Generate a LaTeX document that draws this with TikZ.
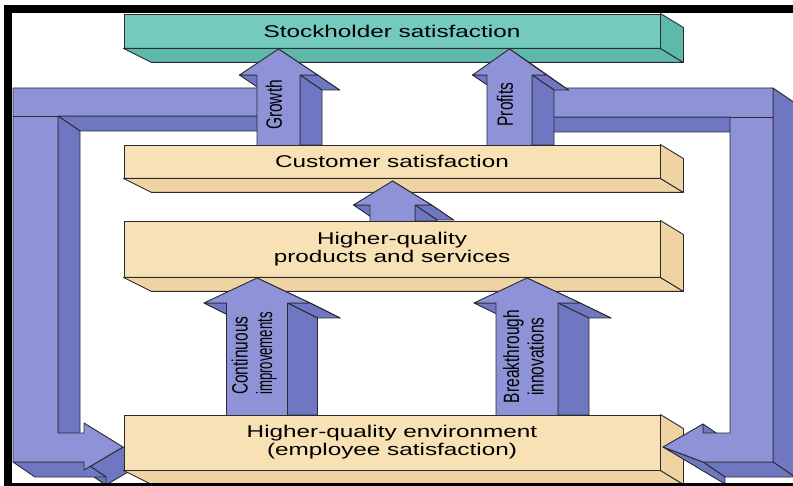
\documentclass[tikz,border=0pt]{standalone}
\usepackage{fontspec}
\setmainfont{Liberation Sans}
\usetikzlibrary{calc}

\definecolor{tealfront}{HTML}{74CBBD}
\definecolor{tealside}{HTML}{5DB9A9}
\definecolor{wheatfront}{HTML}{F9E1B6}
\definecolor{wheatside}{HTML}{EFD3A2}
\definecolor{loopfront}{HTML}{8D93D6}
\definecolor{loopshade}{HTML}{7077C2}
\definecolor{edgeline}{HTML}{2A2A30}

\newcommand\boxfont{\fontsize{17}{18}\selectfont}
\newcommand\tagfont{\fontsize{15.5}{17}\selectfont}
\newcommand\widelabel[1]{\scalebox{1.43}[1]{#1}}
\newcommand\uplabel[2][c]{\scalebox{1}[1.43]{\begin{tabular}{@{}#1@{}}#2\end{tabular}}}

\tikzset{
  face/.style={draw=edgeline, line width=0.9pt, line join=round},
  slab/.style={face, inner sep=0pt, align=center, minimum width=536, font=\boxfont},
  loopface/.style={face, fill=loopfront},
  loopside/.style={face, fill=loopshade},
  loopline/.style={draw=edgeline, line width=0.6pt},
  arrowtag/.style={rotate=90, inner sep=0pt, font=\tagfont}
}

% bottom and right faces of a slab node
\newcommand\slabfaces[2]{%
  \path[face, fill=#2] (#1.south west) -- (#1.south east) -- ($(#1.south east)+(23,14)$) -- ($(#1.south west)+(28,14)$) -- cycle;
  \path[face, fill=#2] (#1.north east) -- ($(#1.north east)+(23,14)$) -- ($(#1.south east)+(23,14)$) -- (#1.south east) -- cycle;
}

% block arrow pointing up: centre x, tip y, base y, half shaft, half head, head length, depth
\newcommand\liftarrow[7]{%
  \path[loopside] ({#1-#5},{#2+#6}) -- ({#1-#4},{#2+#6}) -- ({#1-#4+#7},{#2+#6+15}) -- ({#1-#5+#7},{#2+#6+15}) -- cycle;
  \path[loopside] (#1,#2) -- ({#1+#5},{#2+#6}) -- ({#1+#5+#7},{#2+#6+15}) -- ({#1+#7},{#2+15}) -- cycle;
  \path[loopside] ({#1+#5},{#2+#6}) -- ({#1+#4},{#2+#6}) -- ({#1+#4+#7},{#2+#6+15}) -- ({#1+#5+#7},{#2+#6+15}) -- cycle;
  \path[loopside] ({#1+#4},{#2+#6}) -- ({#1+#4},#3) -- ({#1+#4+#7},#3) -- ({#1+#4+#7},{#2+#6+15}) -- cycle;
  \path[loopface] ({#1-#4},#3) -- ({#1-#4},{#2+#6}) -- ({#1-#5},{#2+#6}) -- (#1,#2) -- ({#1+#5},{#2+#6}) -- ({#1+#4},{#2+#6}) -- ({#1+#4},#3);
}

\begin{document}
\begin{tikzpicture}[x=1pt, y=-1pt]
  \useasboundingbox (0,0) rectangle (793,486);
  \clip (0,0) rectangle (793,486);
  \fill[white] (0,0) rectangle (793,486);

  % slabs
  \node[slab, fill=tealfront, minimum height=34] (stock) at (392,31) {\widelabel{Stockholder satisfaction}};
  \slabfaces{stock}{tealside}
  \node[slab, fill=wheatfront, minimum height=33] (cust) at (392,161.5) {\widelabel{Customer satisfaction}};
  \slabfaces{cust}{wheatside}
  \node[slab, fill=wheatfront, minimum height=56] (prod) at (392,249) {\widelabel{Higher-quality}\\\widelabel{products and services}};
  \slabfaces{prod}{wheatside}

  % left loop, growth back to the environment
  \path[loopside] (58,116) -- (270,116) -- (292,131) -- (80,131) -- cycle;
  \path[loopside] (58,116) -- (58,433) -- (80,448) -- (80,131) -- cycle;
  \path[loopside] (123,447) -- (84,470) -- (106,485) -- (145,462) -- cycle;
  \path[loopside] (84,470) -- (84,462) -- (106,477) -- (106,485) -- cycle;
  \path[loopside] (84,462) -- (13,462) -- (35,477) -- (106,477) -- cycle;
  \path[loopface] (13,88) -- (270,88) -- (270,116) -- (58,116) -- (58,433) -- (84,433) -- (84,423)
    -- (123,447) -- (84,470) -- (84,462) -- (13,462) -- cycle;
  \draw[loopline] (13,116) -- (58,116);

  \node[slab, fill=wheatfront, minimum height=55] (env) at (392,442.5) {\widelabel{Higher-quality environment}\\\widelabel{(employee satisfaction)}};
  \slabfaces{env}{wheatside}

  % right loop, profits back to the environment
  \path[loopside] (500,117) -- (730,117) -- (752,132) -- (522,132) -- cycle;
  \path[loopside] (773,88) -- (795,103) -- (795,477) -- (773,462) -- cycle;
  \path[loopside] (703,462) -- (773,462) -- (795,477) -- (725,477) -- cycle;
  \path[loopside] (663,447) -- (703,462) -- (725,477) -- (725,484) -- cycle;
  \path[loopside] (703,424) -- (703,433) -- (725,448) -- (725,439) -- cycle;
  \path[loopface] (500,88) -- (773,88) -- (773,462) -- (703,462) -- (663,447) -- (703,424)
    -- (703,433) -- (730,433) -- (730,117) -- (500,117) -- cycle;
  \draw[loopline] (730,117) -- (773,117);

  % upward arrows
  \liftarrow{278.5}{49}{145}{21.5}{39}{26}{22}
  \liftarrow{509.5}{49}{145}{22.5}{37}{26}{22}
  \liftarrow{392.5}{181}{221}{22.5}{39}{24}{22}
  \liftarrow{257}{278}{415}{30.5}{53}{25}{30}
  \liftarrow{527}{278}{415}{31}{53}{25}{31}

  \node[arrowtag] (growth) at (277,105) {\uplabel{Growth}};
  \node[arrowtag] (profits) at (508,104.5) {\uplabel{Profits}};
  \node[arrowtag] (contimp) at (255,353.5) {\uplabel[l]{Continuous\\\scalebox{0.85}[1]{improvements}}};
  \node[arrowtag] (breakinn) at (526.5,356.5) {\uplabel{Breakthrough\\innovations}};

  % frame
  \fill[black] (4,5) rectangle (793,13);
  \fill[black] (4,5) rectangle (12,486);
  \fill[black] (4,483) rectangle (793,486);
\end{tikzpicture}
\end{document}
